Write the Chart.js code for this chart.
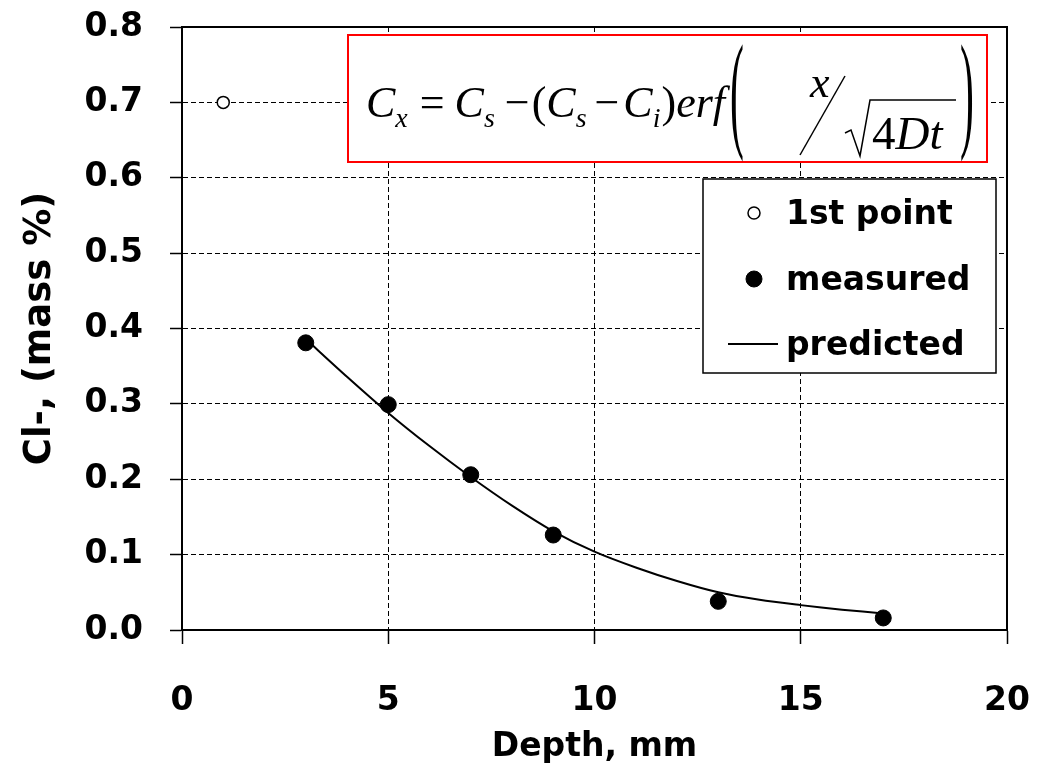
<!DOCTYPE html>
<html>
<head>
<meta charset="utf-8">
<title>Chloride profile</title>
<script src="https://cdn.jsdelivr.net/npm/chart.js@4.4.1/dist/chart.umd.min.js"></script>
<style>
  body { margin: 0; background: #fff; }
</style>
</head>
<body>
<canvas id="myChart" width="1055" height="770"></canvas>
<script>
// first point, left out of the fit
const firstDepth = [1];
const firstCl = [0.70];
// measured chloride (mass %) vs depth (mm)
const measuredDepth = [3, 5, 7, 9, 13, 17];
const measuredCl = [0.381, 0.299, 0.206, 0.126, 0.038, 0.016];
// erf prediction
const predictedDepth = [3, 4, 5, 6, 7, 8, 9, 10, 11, 12, 13, 14, 15, 16, 17];
const predictedCl = [0.386, 0.336, 0.288, 0.244, 0.203, 0.165, 0.131, 0.104, 0.083, 0.065, 0.050, 0.040, 0.033, 0.027, 0.022];
// axis ticks
const xTicks = [0, 5, 10, 15, 20];
const yTicks = [0, 0.1, 0.2, 0.3, 0.4, 0.5, 0.6, 0.7, 0.8];

const sansFont = '"DejaVu Sans", "Liberation Sans", Arial, sans-serif';
const serifFont = '"Liberation Serif", "Times New Roman", serif';
Chart.defaults.font.family = sansFont;
Chart.defaults.color = '#000';

function toPoints(xs, ys){
  let pts = [];
  for (let i = 0; i < xs.length; i++) {
    pts.push({x: xs[i], y: ys[i]});
  }
  return pts;
}

// solid frame round the plot area
const framePlugin = {
  id: 'frame',
  afterDraw(chart){
    const {ctx, chartArea} = chart;
    ctx.save();
    ctx.strokeStyle = '#000';
    ctx.lineWidth = 2;
    ctx.strokeRect(chartArea.left, chartArea.top, chartArea.right - chartArea.left, chartArea.bottom - chartArea.top);
    ctx.restore();
  }
};

// the erf formula in a red box
const equationPlugin = {
  id: 'equation',
  afterDraw(chart){
    const ctx = chart.ctx;
    const left = 348, top = 35, right = 987, bottom = 162;
    ctx.save();
    ctx.fillStyle = '#fff';
    ctx.fillRect(left, top, right - left, bottom - top);
    ctx.strokeStyle = '#ff0000';
    ctx.lineWidth = 2;
    ctx.strokeRect(left, top, right - left, bottom - top);

    ctx.fillStyle = '#000';
    ctx.strokeStyle = '#000';
    ctx.textAlign = 'left';
    ctx.textBaseline = 'alphabetic';
    const ital = 'italic 44px ' + serifFont;
    const rom = '44px ' + serifFont;
    const sub = 'italic 28px ' + serifFont;
    const base = top + 82;
    let x = left + 18;
    function put(txt, font, dy, gap){
      ctx.font = font;
      ctx.fillText(txt, x, base + (dy || 0));
      x += ctx.measureText(txt).width + (gap || 0);
    }
    put('C', ital); put('x', sub, 10, 12);
    put('=', rom, 0, 10);
    put('C', ital); put('s', sub, 10, 10);
    put('\u2212', rom, 0, 2);
    put('(', rom);
    put('C', ital); put('s', sub, 10, 8);
    put('\u2212', rom, 0, 4);
    put('C', ital); put('i', sub, 10, 1);
    put(')', rom);
    put('erf', ital);

    // tall thin brackets
    function bigParen(ch, px){
      ctx.save();
      ctx.translate(px, top + 99);
      ctx.scale(0.32, 1);
      ctx.font = '130px ' + serifFont;
      ctx.fillText(ch, 0, 0);
      ctx.restore();
    }
    bigParen('(', left + 382);
    bigParen(')', left + 612);

    // x / sqrt(4Dt)
    ctx.font = ital;
    ctx.fillText('x', left + 462, top + 62);
    ctx.lineWidth = 1.5;
    ctx.beginPath();
    ctx.moveTo(left + 452, top + 120);
    ctx.lineTo(left + 497, top + 41);
    ctx.stroke();
    ctx.beginPath();
    ctx.moveTo(left + 497, top + 98);
    ctx.lineTo(left + 503, top + 95);
    ctx.lineTo(left + 512, top + 121);
    ctx.lineTo(left + 522, top + 65);
    ctx.lineTo(left + 608, top + 65);
    ctx.stroke();
    x = left + 524;
    const rbase = top + 114;
    ctx.font = '47px ' + serifFont;
    ctx.fillText('4', x, rbase);
    x += ctx.measureText('4').width;
    ctx.font = 'italic 47px ' + serifFont;
    ctx.fillText('Dt', x, rbase);
    ctx.restore();
  }
};

// legend box drawn from the dataset styles
const legendPlugin = {
  id: 'boxLegend',
  afterDraw(chart){
    const ctx = chart.ctx;
    const left = 703, top = 179, right = 996, bottom = 373;
    const rows = [213, 279, 344];
    ctx.save();
    ctx.fillStyle = '#fff';
    ctx.fillRect(left, top, right - left, bottom - top);
    ctx.strokeStyle = '#000';
    ctx.lineWidth = 1.5;
    ctx.strokeRect(left, top, right - left, bottom - top);
    ctx.font = 'bold 33px ' + sansFont;
    ctx.textBaseline = 'middle';
    ctx.textAlign = 'left';
    chart.data.datasets.forEach((ds, i) => {
      const y = rows[i];
      if (ds.showLine) {
        ctx.strokeStyle = ds.borderColor;
        ctx.lineWidth = ds.borderWidth;
        ctx.beginPath();
        ctx.moveTo(728, y);
        ctx.lineTo(778, y);
        ctx.stroke();
      } else {
        ctx.beginPath();
        ctx.arc(754, y, ds.pointRadius, 0, Math.PI * 2);
        ctx.fillStyle = ds.backgroundColor;
        ctx.fill();
        ctx.strokeStyle = ds.borderColor;
        ctx.lineWidth = ds.borderWidth;
        ctx.stroke();
      }
      ctx.fillStyle = '#000';
      ctx.fillText(ds.label, 786, y + 2);
    });
    ctx.restore();
  }
};

const tickFont = {size: 33, weight: 'bold'};

const data = {
  datasets: [
    {
      label: '1st point',
      data: toPoints(firstDepth, firstCl),
      backgroundColor: '#fff',
      borderColor: '#000',
      borderWidth: 1.5,
      pointRadius: 6,
      showLine: false
    },
    {
      label: 'measured',
      data: toPoints(measuredDepth, measuredCl),
      backgroundColor: '#000',
      borderColor: '#000',
      borderWidth: 1,
      pointRadius: 8,
      showLine: false
    },
    {
      label: 'predicted',
      data: toPoints(predictedDepth, predictedCl),
      borderColor: '#000',
      backgroundColor: '#000',
      borderWidth: 2,
      pointRadius: 0,
      tension: 0.3,
      showLine: true
    }
  ]
};

const config = {
  type: 'scatter',
  data: data,
  options: {
    responsive: false,
    animation: false,
    layout: {padding: {top: 27, right: 48, left: 0, bottom: 0}},
    plugins: {legend: {display: false}, tooltip: {enabled: false}},
    scales: {
      x: {
        type: 'linear',
        min: 0,
        max: 20,
        afterBuildTicks: a => { a.ticks = xTicks.map(v => ({value: v})); },
        afterFit: a => { a.height = 140; a.paddingLeft = 0; a.paddingRight = 0; },
        ticks: {color: '#000', font: tickFont, padding: 38, maxRotation: 0},
        grid: {color: '#000', lineWidth: 1, tickLength: 14, tickWidth: 1.5, tickBorderDash: []},
        border: {color: '#000', width: 2, dash: [5, 3]},
        title: {display: true, text: 'Depth, mm', color: '#000', font: {size: 33, weight: 'bold'}, padding: {top: 0, bottom: 3}}
      },
      y: {
        min: 0,
        max: 0.8,
        afterBuildTicks: a => { a.ticks = yTicks.map(v => ({value: v})); },
        afterFit: a => { a.width = 182; a.paddingTop = 0; a.paddingBottom = 0; },
        ticks: {color: '#000', font: tickFont, padding: 27, callback: v => v.toFixed(1)},
        grid: {color: '#000', lineWidth: 1, tickLength: 12, tickWidth: 1.5, tickBorderDash: []},
        border: {color: '#000', width: 2, dash: [5, 3]},
        title: {display: true, text: 'Cl-, (mass %)', color: '#000', font: {size: 37, weight: 'bold'}, padding: {top: 18, bottom: 0}}
      }
    }
  },
  plugins: [framePlugin, equationPlugin, legendPlugin]
};

var myChart = new Chart(document.getElementById('myChart'), config);
</script>
</body>
</html>
